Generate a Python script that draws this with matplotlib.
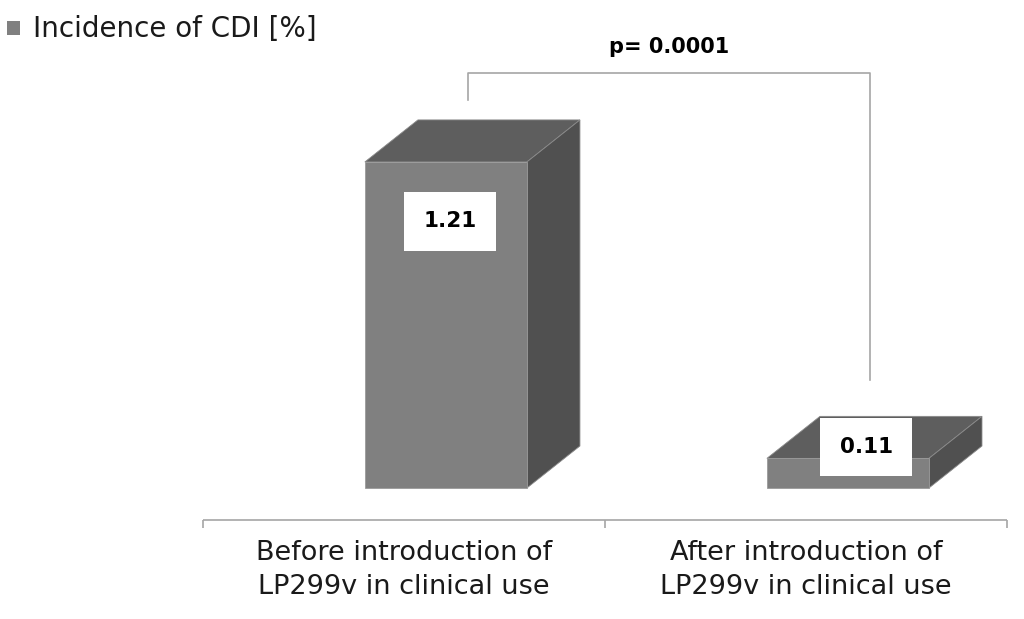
import matplotlib
matplotlib.use('Agg')
import matplotlib.pyplot as plt
from matplotlib.patches import Polygon, Rectangle
import numpy as np

categories = ["Before introduction of\nLP299v in clinical use",
              "After introduction of\nLP299v in clinical use"]
incidence = [1.21, 0.11]
series_name = "Incidence of CDI [%]"
p_text = "p= 0.0001"
bracket_ends = [1.44, 0.40]
bracket_top = 1.54

front_col = "#808080"
top_col = "#5e5e5e"
side_col = "#505050"

plt.rcParams['font.family'] = ['DejaVu Sans']

fig = plt.figure(figsize=(10.24, 6.19), dpi=100, facecolor="white")
ax = fig.add_axes([0, 0, 1, 1])
ax.set_xlim(-1.005, 1.542)
ax.set_ylim(-0.486, 1.811)
ax.axis('off')

x = np.arange(len(categories))
off = 0.104      # front face shift from category centre
width = 0.403
dx, dy = 0.132, 0.156   # depth

bars = ax.bar(x + off, incidence, width=width, color=front_col,
              edgecolor="#9a9a9a", linewidth=0.6, zorder=3)
for b, v in zip(bars, incidence):
    x0 = b.get_x()
    x1 = x0 + b.get_width()
    top = Polygon([(x0, v), (x0 + dx, v + dy), (x1 + dx, v + dy), (x1, v)],
                  closed=True, fc=top_col, ec="#8a8a8a", lw=0.6, zorder=2)
    side = Polygon([(x1, 0), (x1 + dx, dy), (x1 + dx, v + dy), (x1, v)],
                   closed=True, fc=side_col, ec="#8a8a8a", lw=0.6, zorder=2)
    ax.add_patch(top)
    ax.add_patch(side)

# value labels in white boxes
for xi, v in zip(x, incidence):
    ax.text(xi + 0.115 + 0.035 * (v < 0.5), 0.762 * v + 0.068, f"{v:.2f}",
            ha='center', va='center',
            fontsize=15.5, fontweight='bold', color='black', zorder=5,
            bbox=dict(boxstyle='square,pad=0.9', fc='white', ec='none'))

# category axis
ybase = -0.119
ax.hlines(ybase, -0.5, len(categories) - 0.5, color="#a6a6a6", lw=1.2)
for t in np.arange(-0.5, len(categories), 1.0):
    ax.vlines(t, ybase - 0.03, ybase, color="#a6a6a6", lw=1.2)
for xi, lab in zip(x, categories):
    ax.text(xi, ybase - 0.075, lab, ha='center', va='top', fontsize=19.5,
            color='#1a1a1a', linespacing=1.4)

# significance bracket
bx = x + 0.16
ax.plot([bx[0], bx[0], bx[1], bx[1]],
        [bracket_ends[0], bracket_top, bracket_top, bracket_ends[1]],
        color="#a6a6a6", lw=1.2, zorder=1)
ax.text(bx.mean(), bracket_top + 0.06, p_text, ha='center', va='bottom',
        fontsize=15, fontweight='bold', color='black')

# legend
ax.add_patch(Rectangle((0.007, 0.943), 0.013, 0.023, transform=fig.transFigure,
                       fc=front_col, ec='none'))
fig.text(0.032, 0.953, series_name, ha='left', va='center', fontsize=20,
         color='#1a1a1a')

fig.savefig("out.png", dpi=100, facecolor="white")
